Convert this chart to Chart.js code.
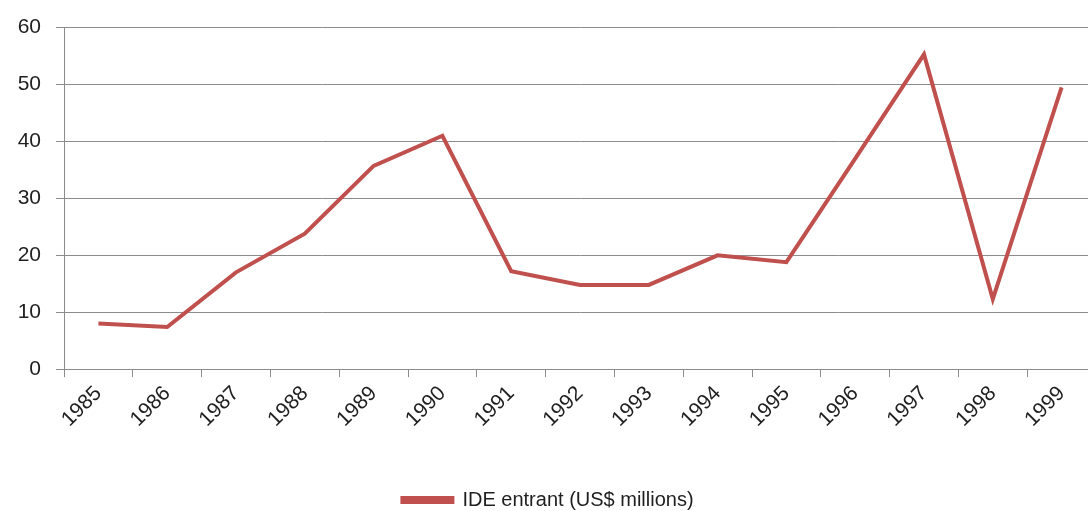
<!DOCTYPE html>
<html>
<head>
<meta charset="utf-8">
<script src="https://cdn.jsdelivr.net/npm/chart.js@4"></script>
<style>
  html, body { margin: 0; padding: 0; background: #fff; overflow: hidden; }
  #wrap { width: 1100px; height: 511px; }
</style>
</head>
<body>
<div id="wrap"><canvas id="chart" width="1100" height="511"></canvas></div>
<script>
const years = ['1985', '1986', '1987', '1988', '1989', '1990', '1991', '1992',
  '1993', '1994', '1995', '1996', '1997', '1998', '1999'];
const fdiInflows = [8.0, 7.4, 17.0, 23.8, 35.7, 41.0, 17.2, 14.8,
  14.8, 20.0, 18.8, 37.0, 55.3, 12.3, 49.5];
const seriesLabel = 'IDE entrant (US$ millions)';

const lineColor = '#c0504d';
const gridColor = '#8c8c8c';
const textColor = '#1f1f1f';
const fontFamily = '"Liberation Sans", Arial, sans-serif';

new Chart(document.getElementById('chart'), {
  type: 'line',
  data: {
    labels: years,
    datasets: [{
      label: seriesLabel,
      data: fdiInflows,
      borderColor: lineColor,
      backgroundColor: lineColor,
      borderWidth: 4,
      pointRadius: 0,
      tension: 0,
      fill: false
    }]
  },
  options: {
    responsive: false,
    animation: false,
    layout: {
      // negative bottom pushes the legend down to the canvas edge
      padding: {top: 26, right: 4, left: 0, bottom: -9}
    },
    plugins: {
      legend: {
        position: 'bottom',
        labels: {
          color: textColor,
          font: {family: fontFamily, size: 20},
          boxWidth: 50,
          boxHeight: 4,
          padding: 4
        }
      },
      tooltip: {enabled: false}
    },
    scales: {
      x: {
        offset: true,
        // leave room between the rotated years and the legend
        afterFit: (scale) => { scale.height += 50; },
        grid: {
          display: true,
          drawOnChartArea: false,
          drawTicks: true,
          tickLength: 8,
          offset: true,
          color: gridColor
        },
        border: {color: gridColor, width: 1},
        ticks: {
          color: textColor,
          font: {family: fontFamily, size: 21},
          maxRotation: 45,
          minRotation: 45,
          autoSkip: false,
          padding: 4
        }
      },
      y: {
        min: 0,
        max: 60,
        afterFit: (scale) => { scale.width = 64; },
        grid: {
          color: gridColor,
          tickLength: 8
        },
        border: {color: gridColor, width: 1},
        ticks: {
          stepSize: 10,
          color: textColor,
          font: {family: fontFamily, size: 21},
          padding: 15
        }
      }
    }
  }
});
</script>
</body>
</html>
